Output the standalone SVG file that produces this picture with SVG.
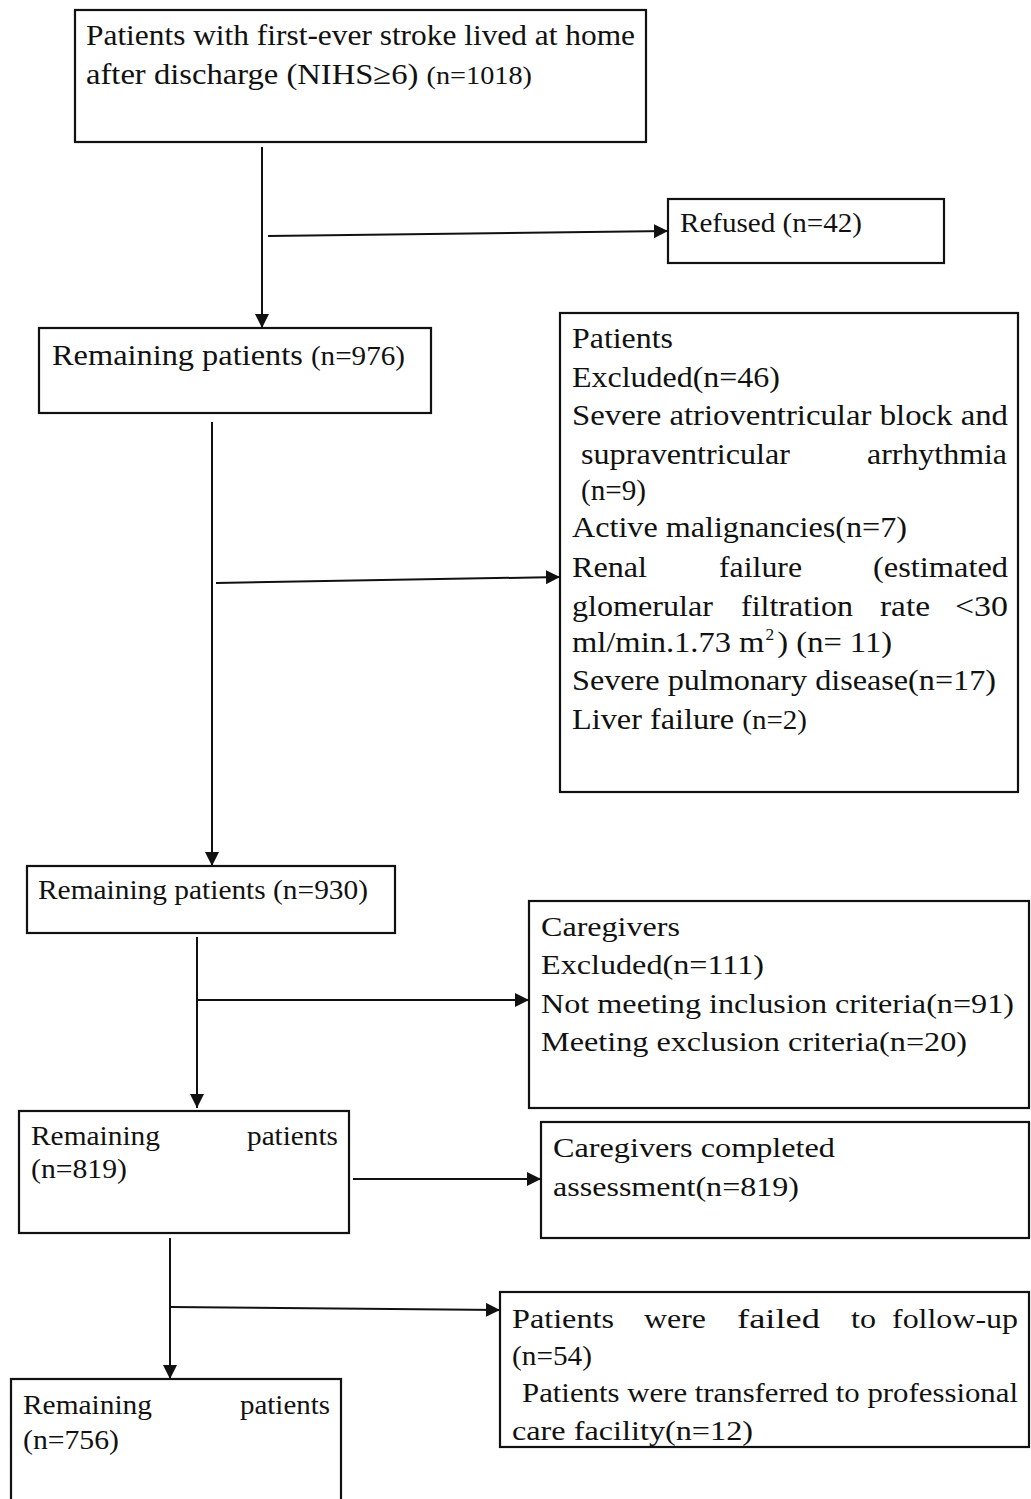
<svg xmlns="http://www.w3.org/2000/svg" width="1031" height="1499" viewBox="0 0 1031 1499">
<style>
.box{fill:#fff;stroke:#111;stroke-width:2.2}
.t{font-family:'Liberation Serif','Times New Roman',Times,serif;font-size:28px;fill:#111}
.big{font-size:30px}
.sm{font-size:27px}
.ln{stroke:#111;stroke-width:2;fill:none}
</style>
<defs>
<marker id="ah" markerUnits="userSpaceOnUse" markerWidth="16" markerHeight="14" refX="14" refY="7" orient="auto">
<path d="M0,0 L14,7 L0,14 Z" fill="#111"/>
</marker>
</defs>
<rect width="1031" height="1499" fill="#fff"/>
<g font-family="Liberation Serif, Times New Roman, Times, serif">

<g id="n1">
<rect class="box" x="75" y="10" width="571" height="132"/>
<text class="t big" x="86" y="45" textLength="549" lengthAdjust="spacingAndGlyphs">Patients with first-ever stroke lived at home</text>
<text class="t big" x="86" y="84" textLength="446" lengthAdjust="spacingAndGlyphs">after discharge (NIHS≥6) <tspan font-size="26">(n=1018)</tspan></text>
</g>

<g id="n2">
<rect class="box" x="668" y="199" width="276" height="64"/>
<text class="t" x="680" y="232" textLength="182" lengthAdjust="spacingAndGlyphs">Refused (n=42)</text>
</g>

<g id="n3">
<rect class="box" x="39" y="328" width="392" height="85"/>
<text class="t big" x="52" y="365" textLength="353" lengthAdjust="spacingAndGlyphs">Remaining patients <tspan font-size="27">(n=976)</tspan></text>
</g>

<g id="n4">
<rect class="box" x="560" y="313" width="458" height="479"/>
<text class="t big" x="572" y="348" textLength="101" lengthAdjust="spacingAndGlyphs">Patients</text>
<text class="t big" x="572" y="387" textLength="208" lengthAdjust="spacingAndGlyphs">Excluded(n=46)</text>
<text class="t big" x="572" y="425" textLength="436" lengthAdjust="spacingAndGlyphs">Severe atrioventricular block and</text>
<text class="t big" x="581" y="464" textLength="209" lengthAdjust="spacingAndGlyphs">supraventricular</text>
<text class="t big" x="867" y="464" textLength="140" lengthAdjust="spacingAndGlyphs">arrhythmia</text>
<text class="t big" x="581" y="500" textLength="65" lengthAdjust="spacingAndGlyphs">(n=9)</text>
<text class="t big" x="572" y="537" textLength="335" lengthAdjust="spacingAndGlyphs">Active malignancies(n=7)</text>
<text class="t big" x="572" y="577" textLength="75" lengthAdjust="spacingAndGlyphs">Renal</text>
<text class="t big" x="719" y="577" textLength="83" lengthAdjust="spacingAndGlyphs">failure</text>
<text class="t big" x="873" y="577" textLength="135" lengthAdjust="spacingAndGlyphs">(estimated</text>
<text class="t big" x="572" y="616" textLength="141" lengthAdjust="spacingAndGlyphs">glomerular</text>
<text class="t big" x="741" y="616" textLength="112" lengthAdjust="spacingAndGlyphs">filtration</text>
<text class="t big" x="880" y="616" textLength="50" lengthAdjust="spacingAndGlyphs">rate</text>
<text class="t big" x="955" y="616" textLength="53" lengthAdjust="spacingAndGlyphs">&lt;30</text>
<text class="t big" x="572" y="652" textLength="320" lengthAdjust="spacingAndGlyphs">ml/min.1.73 m<tspan font-size="16" dx="1" dy="-12">2</tspan><tspan dx="3" dy="12">) (n= 11)</tspan></text>
<text class="t big" x="572" y="690" textLength="424" lengthAdjust="spacingAndGlyphs">Severe pulmonary disease(n=17)</text>
<text class="t big" x="572" y="729" textLength="235" lengthAdjust="spacingAndGlyphs">Liver failure <tspan font-size="27">(n=2)</tspan></text>
</g>

<g id="n5">
<rect class="box" x="27" y="866" width="368" height="67"/>
<text class="t sm" x="38" y="899" textLength="330" lengthAdjust="spacingAndGlyphs">Remaining patients (n=930)</text>
</g>

<g id="n6">
<rect class="box" x="529" y="901" width="500" height="207"/>
<text class="t sm" x="541" y="936" textLength="139" lengthAdjust="spacingAndGlyphs">Caregivers</text>
<text class="t sm" x="541" y="974" textLength="223" lengthAdjust="spacingAndGlyphs">Excluded(n=111)</text>
<text class="t sm" x="541" y="1013" textLength="473" lengthAdjust="spacingAndGlyphs">Not meeting inclusion criteria(n=91)</text>
<text class="t sm" x="541" y="1051" textLength="426" lengthAdjust="spacingAndGlyphs">Meeting exclusion criteria(n=20)</text>
</g>

<g id="n7">
<rect class="box" x="19" y="1111" width="330" height="122"/>
<text class="t sm" x="31" y="1145" textLength="129" lengthAdjust="spacingAndGlyphs">Remaining</text>
<text class="t sm" x="247" y="1145" textLength="91" lengthAdjust="spacingAndGlyphs">patients</text>
<text class="t sm" x="31" y="1178" textLength="96" lengthAdjust="spacingAndGlyphs">(n=819)</text>
</g>

<g id="n8">
<rect class="box" x="541" y="1122" width="488" height="116"/>
<text class="t sm" x="553" y="1157" textLength="282" lengthAdjust="spacingAndGlyphs">Caregivers completed</text>
<text class="t sm" x="553" y="1196" textLength="246" lengthAdjust="spacingAndGlyphs">assessment(n=819)</text>
</g>

<g id="n9">
<rect class="box" x="500" y="1292" width="529" height="155"/>
<text class="t sm" x="512" y="1328" textLength="102" lengthAdjust="spacingAndGlyphs">Patients</text>
<text class="t sm" x="644" y="1328" textLength="62" lengthAdjust="spacingAndGlyphs">were</text>
<text class="t sm" x="737" y="1328" textLength="83" lengthAdjust="spacingAndGlyphs">failed</text>
<text class="t sm" x="851" y="1328" textLength="25" lengthAdjust="spacingAndGlyphs">to</text>
<text class="t sm" x="892" y="1328" textLength="126" lengthAdjust="spacingAndGlyphs">follow-up</text>
<text class="t sm" x="512" y="1365" textLength="80" lengthAdjust="spacingAndGlyphs">(n=54)</text>
<text class="t sm" x="522" y="1402" textLength="496" lengthAdjust="spacingAndGlyphs">Patients were transferred to professional</text>
<text class="t sm" x="512" y="1440" textLength="241" lengthAdjust="spacingAndGlyphs">care facility(n=12)</text>
</g>

<g id="n10">
<rect class="box" x="11" y="1379" width="330" height="130"/>
<text class="t sm" x="23" y="1414" textLength="129" lengthAdjust="spacingAndGlyphs">Remaining</text>
<text class="t sm" x="240" y="1414" textLength="90" lengthAdjust="spacingAndGlyphs">patients</text>
<text class="t sm" x="23" y="1449" textLength="96" lengthAdjust="spacingAndGlyphs">(n=756)</text>
</g>
</g>

<g id="connectors">
<line class="ln" x1="262" y1="147" x2="262" y2="328" marker-end="url(#ah)"/>
<line class="ln" x1="268" y1="236" x2="668" y2="231" marker-end="url(#ah)"/>
<line class="ln" x1="212" y1="422" x2="212" y2="866" marker-end="url(#ah)"/>
<line class="ln" x1="216" y1="583" x2="560" y2="577" marker-end="url(#ah)"/>
<line class="ln" x1="197" y1="937" x2="197" y2="1108" marker-end="url(#ah)"/>
<line class="ln" x1="197" y1="1000" x2="529" y2="1000" marker-end="url(#ah)"/>
<line class="ln" x1="353" y1="1179" x2="541" y2="1179" marker-end="url(#ah)"/>
<line class="ln" x1="170" y1="1238" x2="170" y2="1379" marker-end="url(#ah)"/>
<line class="ln" x1="170" y1="1307" x2="500" y2="1310" marker-end="url(#ah)"/>
</g>
</svg>
